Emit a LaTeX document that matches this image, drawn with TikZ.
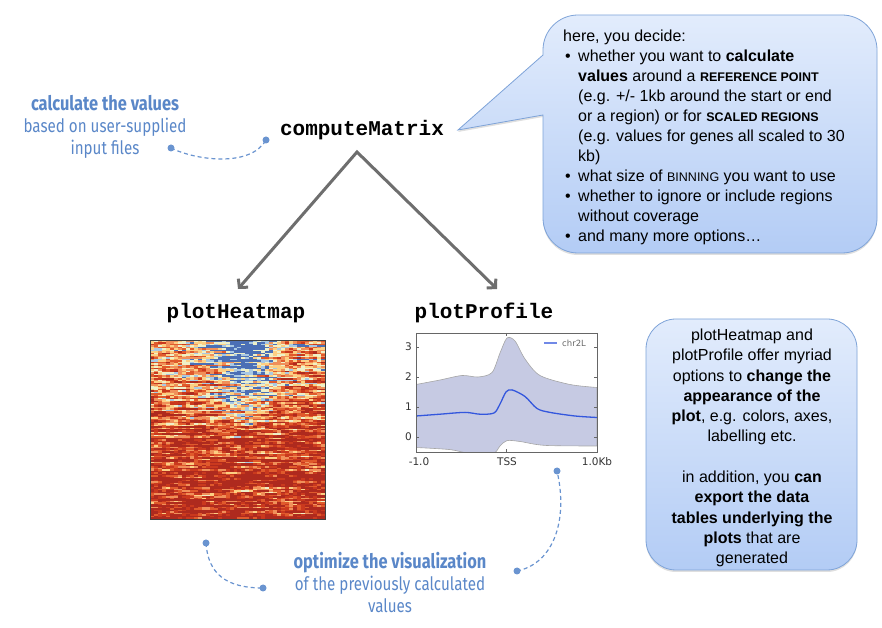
\documentclass[tikz,border=0pt]{standalone}
\usepackage{fontspec}
\setmainfont{Liberation Sans}
\newfontfamily\codefont{Liberation Mono}
\newfontfamily\handfont[FakeStretch=0.82]{Fira Sans}
\newfontfamily\plotfont{DejaVu Sans}
\usetikzlibrary{arrows.meta,shadows}
\definecolor{bubfillT}{HTML}{E2ECFC}
\definecolor{bubfillB}{HTML}{B3CCF5}
\definecolor{bubline}{HTML}{7EA3D8}
\definecolor{handblue}{HTML}{5A87C8}
\definecolor{dashblue}{HTML}{6A94D0}
\definecolor{arrowgray}{HTML}{6E6E6E}
\definecolor{hm0}{HTML}{AE2A1E}
\definecolor{hm1}{HTML}{CA391E}
\definecolor{hm2}{HTML}{E05A2C}
\definecolor{hm3}{HTML}{F0905A}
\definecolor{hm4}{HTML}{FCCF83}
\definecolor{hm5}{HTML}{EEF0C8}
\definecolor{hm6}{HTML}{A8C8E3}
\definecolor{hm7}{HTML}{4B6FB5}
\definecolor{bandfill}{HTML}{C6CAE3}
\definecolor{meanline}{HTML}{3457DD}
\newcommand\mybul{\hspace*{2pt}\makebox[13pt][l]{•}}
\newcommand\myind{\hspace*{15pt}}
\newcommand\mysc[1]{{\fontsize{12.5}{20}\selectfont #1}}
\tikzset{
  codelabel/.style={font=\codefont\bfseries\fontsize{21}{24}\selectfont, inner sep=0pt},
  handtext/.style={font=\handfont\fontsize{18.5}{22}\selectfont, text=handblue, align=center, inner sep=0pt},
  bubtextstyle/.style={font=\fontsize{16}{20}\selectfont, align=left, inner sep=0pt},
  infotextstyle/.style={font=\fontsize{16}{20.3}\selectfont, align=center, inner sep=0pt},
  hdot/.style={circle, fill=dashblue, inner sep=0pt, minimum size=7pt},
  hdash/.style={dashblue, line width=1.2pt, dash pattern=on 4pt off 3pt},
  bigarrow/.style={arrowgray, line width=3pt, line join=miter},
  ticklab/.style={font=\plotfont\fontsize{10.5}{12}\selectfont, inner sep=0pt, text=black!80},
  bubshade/.style={draw=bubline, line width=0.8pt, top color=bubfillT, bottom color=bubfillB,
    drop shadow={shadow xshift=0pt, shadow yshift=-2pt, opacity=0.25}},
}
\begin{document}
\begin{tikzpicture}[x=1pt,y=1pt]
\useasboundingbox (0,0) rectangle (882,628);
% speech bubble
\path[bubshade] (543,513) -- (543,410) arc[start angle=180,end angle=270,radius=35]
  -- (842,375) arc[start angle=270,end angle=360,radius=35]
  -- (877,578) arc[start angle=0,end angle=90,radius=35]
  -- (578,613) arc[start angle=90,end angle=180,radius=35]
  -- (543,573) -- (458,498) -- cycle;
\node[bubtextstyle, anchor=north west] (bubtext) at (563,598) {here, you decide:\\
\mybul whether you want to \textbf{calculate}\\
\myind\textbf{values} around a \textbf{\mysc{REFERENCE POINT}}\\
\myind(e.g. +/- 1kb around the start or end\\
\myind or a region) or for \textbf{\mysc{SCALED REGIONS}}\\
\myind(e.g. values for genes all scaled to 30\\
\myind kb)\\
\mybul what size of \mysc{BINNING} you want to use\\
\mybul whether to ignore or include regions\\
\myind without coverage\\
\mybul and many more options…};
% info box
\node[draw=bubline, line width=0.8pt, top color=bubfillT, bottom color=bubfillB, rounded corners=30pt,
  minimum width=211pt, minimum height=251pt, inner sep=0pt,
  drop shadow={shadow xshift=0pt, shadow yshift=-2pt, opacity=0.25}] (infobox) at (751.5,183.5) {};
\node[infotextstyle] (infotext) at (752,180) {plotHeatmap and\\
plotProfile offer myriad\\
options to \textbf{change the}\\
\textbf{appearance of the}\\
\textbf{plot}, e.g. colors, axes,\\
labelling etc.\\[20.3pt]
in addition, you \textbf{can}\\
\textbf{export the data}\\
\textbf{tables underlying the}\\
\textbf{plots} that are\\
generated};
% titles
\node[codelabel] (cm) at (362,498) {computeMatrix};
\node[codelabel] (ph) at (236,315) {plotHeatmap};
\node[codelabel] (pp) at (484,315) {plotProfile};
% arrows
\coordinate (apex) at (357,476);
\coordinate (lefttip) at (238,339);
\coordinate (righttip) at (497,339);
\draw[bigarrow, {Straight Barb[length=6pt,width=13pt]}-{Straight Barb[length=6pt,width=13pt]}] (lefttip) -- (apex) -- (righttip);
% heatmap
\pgfmathsetseed{11}
\gdef\prevn{0}
\foreach \r in {0,...,119}{
  \pgfmathsetmacro\rt{\r/119}
  \pgfmathsetmacro\rowoff{0.28*(rnd-0.5)}
  \pgfmathsetmacro\yy{287-\r*1.4917}
  \pgfmathsetmacro\bg{max(0.17,0.6-0.8*\rt)}
  \pgfmathsetmacro\amp{max(0,min(0.42,0.95-1.7*\rt))}
  \pgfmathsetmacro\cen{0.48+0.1*rnd}
  \pgfmathsetmacro\wid{0.13+0.15*max(0,0.15-\rt)}
  \foreach \c in {0,...,43}{
    \pgfmathsetmacro\nz{0.6*\prevn+0.55*(rnd-0.5)}
    \global\let\prevn\nz
    \pgfmathsetmacro\dd{abs((\c+0.5)/44-\cen)/\wid}
    \pgfmathsetmacro\gw{1/(1+\dd*\dd*\dd*\dd)}
    \pgfmathsetmacro\vv{\bg+\amp*\gw+\rowoff+\nz}
    \pgfmathtruncatemacro\kk{min(7,max(0,floor(\vv*8)))}
    \fill[hm\kk] (150+\c*3.977,\yy) rectangle ++(4.05,-1.55);
  }
}
\draw[black!75, line width=1pt] (150,108) rectangle (325,287);
% profile plot
\begin{scope}
\clip (416,176) rectangle (597,295);
\fill[bandfill, draw=black!35, line width=0.6pt] plot[smooth] coordinates {(416,243.5) (440,248) (462,252.5) (478,251) (492,255.5) (500,275) (507,290) (515,287) (525,269) (540,252.5) (570,243.5) (597,240.5)}
 -- plot[smooth] coordinates {(597,182) (545,182.6) (520,186.5) (507,187.4) (500,182) (493,174.5) (470,174.5) (450,178.4) (416,180.5)} -- cycle;
\draw[meanline, line width=1.3pt] plot[smooth] coordinates {(416,212) (440,213.8) (465,215.6) (480,213.8) (494,215) (500,224) (506,236) (512,238.1) (525,231.5) (537,219.5) (550,215.6) (575,212) (597,210.5)};
\end{scope}
\draw[black!60, line width=0.6pt] (416,176) rectangle (597,295);
\foreach \v/\lab in {0/0,1/1,2/2,3/3}{
  \draw[black!60, line width=0.5pt] (416,191+30*\v) -- ++(3,0);
  \draw[black!60, line width=0.5pt] (597,191+30*\v) -- ++(-3,0);
  \node[ticklab, anchor=east] (yt\v) at (412,191+30*\v) {\lab};
}
\foreach \xx in {416,506,597}{
  \draw[black!60, line width=0.5pt] (\xx,176) -- ++(0,3);
  \draw[black!60, line width=0.5pt] (\xx,295) -- ++(0,-3);
}
\node[ticklab] (xt1) at (419,166) {-1.0};
\node[ticklab] (xt2) at (507,166) {TSS};
\node[ticklab] (xt3) at (597,166) {1.0Kb};
\coordinate (legA) at (544,285);
\coordinate (legB) at (557,285);
\draw[meanline!70, line width=1.3pt] (legA) -- (legB);
\node[font=\plotfont\fontsize{8.5}{10}\selectfont, text=black!60, anchor=west, inner sep=0pt] (legtext) at (562,285) {chr2L};
% annotations
\node[handtext] (ann1) at (105,501) {{\bfseries\fontsize{20}{22}\selectfont calculate the values}\\based on user-supplied\\input files};
\node[handtext] (ann2) at (390,45) {{\bfseries\fontsize{20}{22}\selectfont optimize the visualization}\\of the previously calculated\\values};
\node[hdot] (dA) at (171,480) {};
\node[hdot] (dB) at (266,488) {};
\node[hdot] (dC) at (206,85) {};
\node[hdot] (dD) at (263,40) {};
\node[hdot] (dE) at (517,57) {};
\node[hdot] (dF) at (557,157) {};
\draw[hdash] (dA.center) .. controls (195,468) and (250,460) .. (dB.center);
\draw[hdash] (dC.center) .. controls (208,55) and (225,40) .. (dD.center);
\draw[hdash] (dE.center) .. controls (555,65) and (568,110) .. (dF.center);
\end{tikzpicture}
\end{document}
